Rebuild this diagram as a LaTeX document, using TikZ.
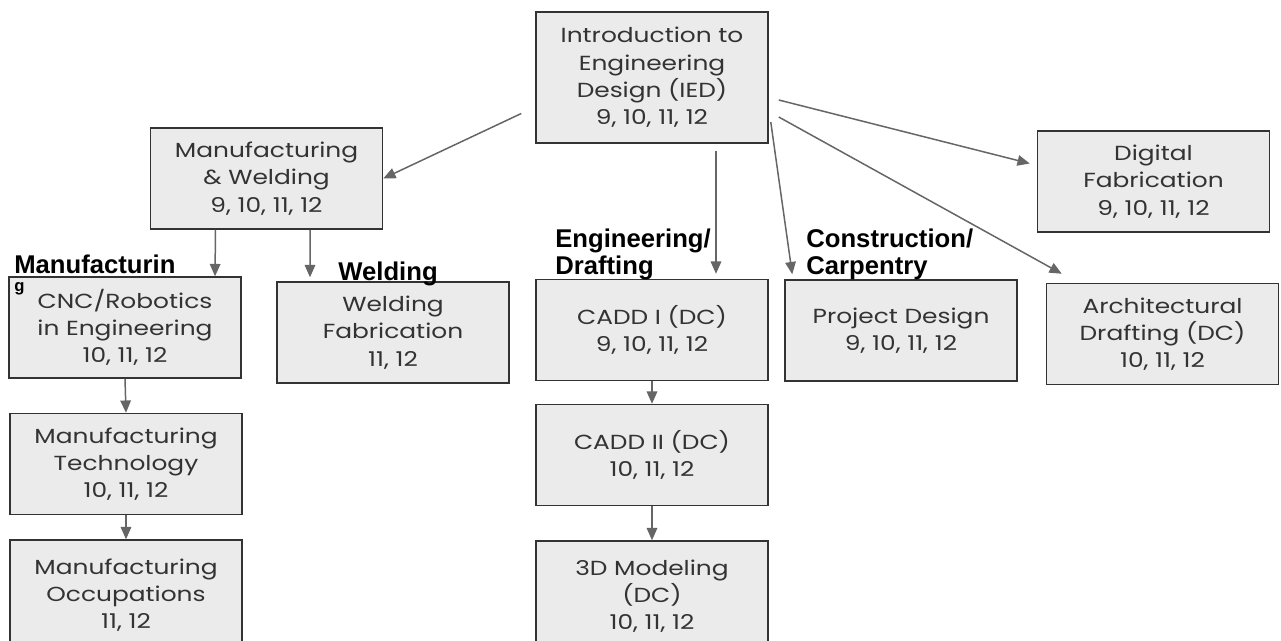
\documentclass[tikz,border=0pt]{standalone}
\usepackage{fontspec}
\setmainfont{Poppins}[FakeStretch=1.22]
\newfontfamily\labelfont{Liberation Sans}
\usetikzlibrary{arrows.meta,calc}
\definecolor{boxfill}{HTML}{EBEBEB}
\definecolor{boxline}{HTML}{333333}
\definecolor{boxtext}{HTML}{333333}
\definecolor{linkgray}{HTML}{666666}
\tikzset{
  course/.style={draw=boxline, line width=0.85pt, fill=boxfill, text=boxtext, align=center,
    minimum width=46.4mm, minimum height=20.2mm, inner sep=0pt,
    font=\fontsize{11.6}{15.5}\selectfont},
  strand/.style={anchor=base west, align=left, inner sep=0pt,
    font=\labelfont\bfseries\fontsize{14.6}{14.8}\selectfont},
  link/.style={draw=linkgray, line width=0.85pt, -{Triangle[length=7pt,width=6pt]}},
}
\begin{document}
\begin{tikzpicture}[x=0.2mm, y=-0.2mm]
    \useasboundingbox (0,0) rectangle (1281,640);
    \fill[white] (0,0) rectangle (1281,640);
    \clip (0,0) rectangle (1281,640);

    % top course
    \node[course, minimum height=26.2mm] (ied) at (652,77.5) {Introduction to\\Engineering\\Design (IED)\\9, 10, 11, 12};

    % second row
    \node[course] (mw) at (266.5,178.5) {Manufacturing\\\& Welding\\9, 10, 11, 12};
    \node[course] (dig) at (1153.5,181.5) {Digital\\Fabrication\\9, 10, 11, 12};

    % third row
    \node[course] (cnc) at (125,327.5) {CNC/Robotics\\in Engineering\\10, 11, 12};
    \node[course] (weld) at (393,332.5) {Welding\\Fabrication\\11, 12};
    \node[course] (caddi) at (652,330) {CADD I (DC)\\9, 10, 11, 12};
    \node[course] (proj) at (901,330.5) {Project Design\\9, 10, 11, 12};
    \node[course] (arch) at (1162.5,334) {Architectural\\Drafting (DC)\\10, 11, 12};

    % lower rows
    \node[course] (tech) at (126,464) {Manufacturing\\Technology\\10, 11, 12};
    \node[course] (caddii) at (652,455) {CADD II (DC)\\10, 11, 12};
    \node[course, minimum height=22mm] (occ) at (126,595) {Manufacturing\\Occupations\\11, 12};
    \node[course, minimum height=22mm] (model) at (652,596) {3D Modeling\\(DC)\\10, 11, 12};

    % strand labels
    \node[strand] (lmfg) at (14,273) {Manufacturin};
    \node[strand, font=\labelfont\bfseries\fontsize{9.5}{10}\selectfont] (lmfgg) at (14,291) {g};
    \node[strand] (lweld) at (338,280) {Welding};
    \node[strand] (leng) at (555,274) {Engineering/\\Drafting};
    \node[strand] (lcon) at (806,274) {Construction/\\Carpentry};

    % arrows
    \draw[link] ($(ied.west)+(-14,36)$) -- (mw.east);
    \draw[link] ($(ied.south)+(64,7)$) -- ($(caddi.north)+(64,-5)$);
    \draw[link] ($(ied.east)+(2,44.5)$) -- ($(proj.north west)+(8,-5)$);
    \draw[link] ($(ied.east)+(10,22.5)$) -- ($(dig.west)+(-7,-18)$);
    \draw[link] ($(ied.east)+(10,39.5)$) -- ($(arch.north west)+(16,-9)$);
    \draw[link] ($(mw.south)+(-51,0)$) -- ($(cnc.north)+(90,0)$);
    \draw[link] ($(mw.south)+(43.5,0)$) -- ($(weld.north)+(-83,-4)$);
    \draw[link] (cnc.south) -- (tech.north);
    \draw[link] (tech.south) -- (occ.north);
    \draw[link] (caddi.south) -- (caddii.north);
    \draw[link] (caddii.south) -- (model.north);
\end{tikzpicture}
\end{document}
